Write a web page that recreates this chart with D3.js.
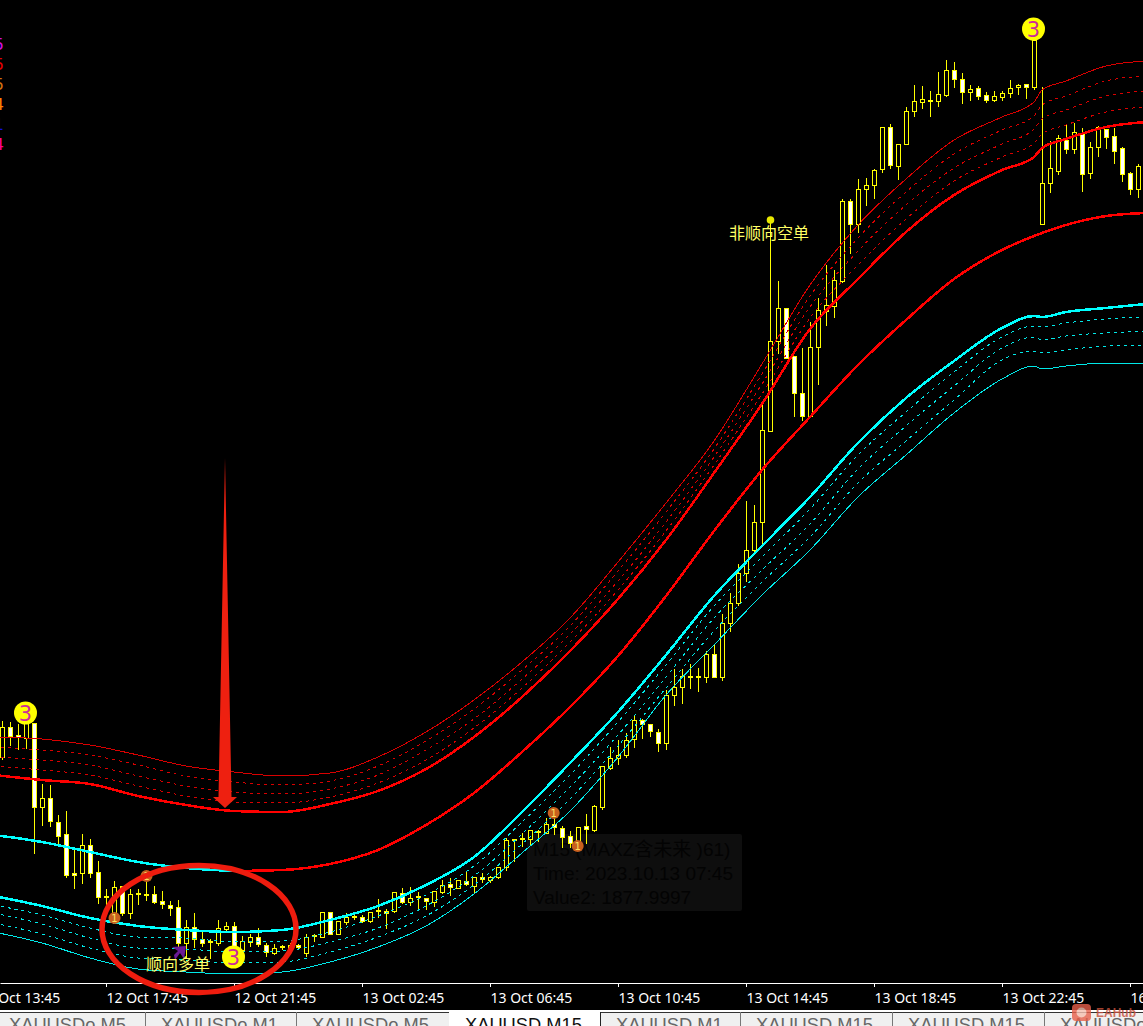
<!DOCTYPE html>
<html><head><meta charset="utf-8">
<style>html,body{margin:0;padding:0;background:#000;overflow:hidden}svg{display:block}</style>
<script src="https://cdn.jsdelivr.net/npm/d3@7"></script>
</head><body><svg id="c" width="1143" height="1026"></svg>
<script>
const open=[1884.3,1887.3,1886.5,1886.2,1887.7,1879.3,1880.2,1877.8,1876.6,1872.7,
1872.7,1875.5,1872.8,1870.4,1868.7,1871.4,1868.7,1870.7,1870.6,1870.6,
1869.9,1869.5,1869.3,1865.7,1867.3,1866.1,1865.9,1865.7,1867.1,1867.4,
1865.0,1865.8,1866.3,1865.5,1864.7,1865.4,1865.2,1865.5,1864.7,1866.5,
1866.3,1868.8,1866.6,1867.8,1868.4,1868.3,1867.9,1869.0,1868.9,1868.9,
1870.7,1869.8,1870.4,1870.2,1869.8,1870.8,1871.6,1871.2,1871.9,1871.4,
1872.3,1872.0,1872.3,1873.3,1876.1,1876.2,1876.1,1876.9,1876.7,1877.6,
1877.2,1876.4,1875.7,1877.4,1877.0,1879.3,1883.2,1884.2,1884.5,1886.1,
1888.0,1887.6,1886.8,1885.7,1890.5,1891.3,1892.4,1892.4,1892.3,1894.6,
1892.3,1897.7,1899.7,1902.7,1905.0,1907.8,1916.9,1925.9,1929.2,1924.4,
1920.7,1918.4,1925.3,1928.9,1929.4,1931.9,1939.9,1937.6,1941.1,1941.5,
1943.1,1947.3,1943.4,1945.6,1948.9,1949.8,1950.0,1949.9,1950.5,1953.0,
1952.1,1950.8,1951.2,1950.5,1950.0,1950.3,1950.7,1951.3,1951.6,1951.3,
1937.6,1941.7,1942.9,1946.0,1945.1,1946.6,1942.7,1945.3,1947.1,1946.4,
1945.2,1942.7,1941.1];
const close=[1887.3,1886.4,1886.3,1887.7,1879.3,1880.2,1877.9,1876.4,1872.5,1872.5,
1875.5,1872.7,1870.3,1870.3,1871.3,1868.7,1870.6,1870.6,1870.5,1869.8,
1869.6,1869.2,1865.7,1867.3,1866.1,1865.7,1865.8,1867.2,1867.4,1865.3,
1865.9,1866.3,1865.6,1864.8,1865.2,1865.3,1865.5,1865.3,1866.3,1866.4,
1868.8,1866.6,1867.9,1868.3,1868.3,1867.9,1868.8,1868.9,1868.7,1870.8,
1869.8,1870.2,1870.3,1869.9,1870.9,1871.5,1871.3,1872.0,1871.6,1872.3,
1872.1,1872.3,1873.3,1876.0,1876.0,1876.1,1877.0,1876.8,1877.6,1877.3,
1876.3,1875.7,1877.3,1877.1,1879.4,1883.4,1884.2,1884.5,1886.0,1888.0,
1887.6,1886.9,1885.7,1890.5,1891.3,1892.4,1892.3,1892.3,1894.6,1892.3,
1897.7,1899.7,1902.7,1905.0,1907.8,1917.0,1925.9,1929.2,1924.2,1920.7,
1918.4,1925.3,1929.0,1929.5,1932.0,1939.9,1937.6,1941.1,1941.5,1943.0,
1947.3,1943.5,1945.6,1948.9,1949.9,1950.1,1949.9,1950.6,1953.0,1952.1,
1950.8,1951.1,1950.4,1950.0,1950.4,1950.7,1951.2,1951.5,1951.3,1956.0,
1941.7,1943.2,1946.2,1945.1,1946.8,1942.6,1945.3,1947.3,1946.3,1944.9,
1942.6,1941.1,1943.4];
const high=[1888.0,1887.9,1887.7,1888.2,1887.8,1881.7,1881.6,1878.6,1879.0,1875.4,
1876.7,1876.2,1874.0,1871.2,1872.0,1871.5,1871.2,1871.2,1872.7,1871.5,
1871.0,1870.0,1870.1,1868.1,1868.8,1867.0,1866.2,1868.1,1867.9,1867.9,
1866.5,1866.7,1867.3,1865.8,1865.7,1865.6,1865.8,1865.7,1866.7,1866.7,
1868.8,1868.8,1867.9,1868.8,1868.9,1868.6,1868.9,1870.2,1869.2,1870.9,
1871.3,1871.4,1870.9,1870.3,1871.0,1872.1,1872.3,1872.1,1872.9,1872.4,
1872.8,1872.5,1873.4,1876.3,1876.2,1876.8,1877.1,1877.1,1878.3,1878.6,
1877.5,1877.0,1877.3,1878.7,1879.6,1883.4,1885.4,1886.1,1886.8,1888.6,
1888.2,1887.7,1887.2,1891.1,1893.2,1893.2,1893.7,1893.3,1895.0,1895.7,
1898.7,1900.8,1903.7,1910.0,1909.6,1919.8,1938.0,1932.0,1929.3,1924.4,
1925.3,1927.9,1930.3,1933.6,1933.1,1940.2,1940.2,1942.2,1942.3,1943.2,
1947.4,1947.7,1945.7,1949.4,1951.6,1951.5,1951.0,1952.9,1954.1,1953.9,
1952.8,1951.6,1951.5,1950.9,1951.0,1951.0,1952.1,1951.7,1951.6,1956.0,
1951.4,1946.0,1946.6,1947.6,1947.8,1947.3,1945.9,1947.5,1947.2,1947.3,
1945.4,1942.9,1943.7];
const low=[1884.1,1885.5,1885.1,1885.2,1874.7,1877.5,1877.4,1875.4,1872.3,1871.2,
1871.7,1872.3,1869.7,1868.7,1868.3,1868.5,1868.2,1869.6,1870.0,1869.7,
1869.2,1868.5,1865.2,1864.2,1865.3,1865.4,1864.2,1865.5,1866.9,1864.7,
1864.8,1865.4,1865.4,1864.4,1864.6,1865.1,1865.0,1865.2,1864.4,1865.9,
1866.3,1866.6,1866.6,1867.6,1868.1,1867.8,1867.8,1868.3,1867.2,1868.8,
1869.7,1869.5,1869.2,1869.1,1869.4,1870.7,1870.5,1871.2,1871.5,1870.8,
1871.8,1871.8,1872.2,1873.0,1873.9,1875.4,1875.6,1875.9,1876.7,1876.6,
1875.3,1875.3,1875.2,1875.7,1876.9,1879.1,1883.1,1883.6,1884.3,1885.3,
1886.2,1886.4,1884.9,1885.1,1889.5,1889.7,1891.2,1890.9,1891.8,1892.3,
1892.0,1896.9,1899.5,1901.9,1904.9,1905.7,1916.9,1924.7,1924.2,1918.4,
1918.0,1918.4,1921.6,1927.5,1928.3,1931.8,1934.7,1936.8,1939.5,1940.2,
1942.8,1943.2,1942.1,1945.6,1948.4,1949.2,1948.4,1949.4,1950.4,1951.3,
1949.7,1950.0,1950.1,1949.8,1949.9,1950.0,1950.3,1950.6,1950.2,1951.1,
1937.6,1940.8,1942.6,1944.7,1944.7,1940.9,1942.2,1944.4,1945.2,1943.7,
1941.9,1940.6,1940.3];

const bandIdx=[-1,5,11,17,23,29,35,41,47,53,59,65,71,77,83,89,95,101,107,113,119,125,129,130,133,138,143];
const redTop=[1886.3,1886.1,1885.5,1884.5,1883.4,1882.8,1882.4,1882.7,1884.3,1886.8,1890.0,1893.8,1898.2,1903.8,1909.7,1915.9,1923.6,1931.5,1937.5,1942.1,1946.0,1948.3,1949.8,1951.0,1951.9,1953.4,1953.9];
const redDash1=[1885.3,1885.0,1884.5,1883.5,1882.4,1881.8,1881.5,1881.9,1883.4,1885.9,1889.1,1893.0,1897.4,1902.9,1908.8,1915.1,1922.6,1930.4,1936.2,1940.8,1944.6,1947.0,1948.4,1949.5,1950.4,1951.9,1952.4];
const redDash2=[1884.3,1884.0,1883.5,1882.4,1881.4,1880.8,1880.6,1881.1,1882.5,1885.0,1888.1,1892.1,1896.6,1901.9,1907.8,1914.3,1921.6,1929.3,1934.9,1939.5,1943.2,1945.6,1947.1,1948.1,1949.0,1950.4,1950.9];
const redDash3=[1883.4,1883.0,1882.5,1881.4,1880.4,1879.8,1879.7,1880.3,1881.7,1884.0,1887.2,1891.2,1895.8,1901.0,1906.9,1913.5,1920.6,1928.2,1933.5,1938.1,1941.9,1944.3,1945.7,1946.6,1947.5,1948.8,1949.3];
const redBottom=[1882.5,1882.0,1881.6,1880.4,1879.5,1878.9,1878.8,1879.6,1880.9,1883.1,1886.3,1890.3,1894.9,1900.1,1906.0,1912.7,1919.6,1927.1,1932.1,1936.8,1940.5,1943.0,1944.3,1945.2,1946.1,1947.3,1947.8];
const midLine=[1876.5,1875.8,1874.8,1873.8,1873.2,1872.9,1873.0,1873.6,1875.0,1877.5,1880.7,1884.8,1889.3,1894.4,1900.4,1906.9,1913.0,1918.3,1923.5,1928.0,1932.1,1935.0,1936.4,1936.7,1937.5,1938.4,1938.7];
const cyanTop=[1870.4,1869.4,1868.2,1867.4,1867.0,1866.8,1867.0,1868.0,1869.4,1871.5,1874.3,1878.8,1883.7,1888.8,1894.5,1900.4,1905.4,1910.3,1915.7,1920.2,1923.9,1927.2,1928.4,1928.3,1928.8,1929.2,1929.6];
const cyanDash1=[1869.5,1868.5,1867.2,1866.3,1866.2,1865.8,1865.9,1866.8,1868.4,1870.5,1873.4,1877.8,1882.5,1887.8,1893.5,1899.4,1904.3,1909.1,1914.5,1918.8,1922.8,1926.3,1927.4,1927.3,1927.7,1928.1,1928.3];
const cyanDash2=[1868.7,1867.6,1866.2,1865.2,1865.1,1864.8,1864.9,1865.8,1867.2,1869.4,1872.4,1876.6,1881.3,1886.5,1892.3,1898.2,1903.0,1907.6,1913.1,1917.4,1921.4,1925.2,1926.3,1926.0,1926.4,1926.7,1926.9];
const cyanDash3=[1867.7,1866.6,1865.2,1864.2,1864.0,1863.7,1863.8,1864.8,1866.3,1868.4,1871.5,1875.6,1880.1,1885.4,1891.2,1896.9,1901.8,1906.3,1911.7,1915.9,1920.0,1924.0,1924.9,1924.7,1925.0,1925.4,1925.5];
const cyanBottom=[1866.8,1865.7,1864.2,1863.1,1862.8,1862.6,1862.8,1863.8,1865.3,1867.4,1870.6,1874.7,1878.9,1884.3,1890.5,1895.5,1900.5,1905.0,1910.3,1914.5,1918.7,1922.1,1923.4,1923.1,1923.4,1923.7,1923.7];

const tickIdx=[-3,13,29,45,61,77,93,109,125,141];
const tickLabels=["12 Oct 13:45","12 Oct 17:45","12 Oct 21:45","13 Oct 02:45","13 Oct 06:45","13 Oct 10:45","13 Oct 14:45","13 Oct 18:45","13 Oct 22:45","16 Oct 02:45"];
const tabLabels=["XAUUSDo M5","XAUUSDo M1","XAUUSDo M5","XAUUSD M15","XAUUSD M1","XAUUSD M15","XAUUSD M15","XAUUSDo M5"];
const tabEdges=[-6,145,296,449,600,740,892,1044,1200];
const tabActive=3;

const badgeBars=[3,29,129], badgePrices=[1888.7,1864.3,1957.1];
const dotBars=[68.9,71.9,18,14], dotPrices=[1878.7,1875.4,1872.4,1868.2];
const tipLines=["M15 (MAXZ含未来 )61)","Time: 2023.10.13 07:45","Value2: 1877.9997"];
const cornerGlyphs=["5","5","5","4","1","4"], cornerColors=["#d010e0","#e00000","#d07010","#ff8000","#1010e0","#ff0090"];

const svg=d3.select("#c");
const W=1143,H=1026,axisY=983;
const x=d3.scaleLinear().domain([-0.25,142.625]).range([0,W]);
const y=d3.scaleLinear().domain([1960,1861.5]).range([0,985]);
svg.append("rect").attr("width",W).attr("height",H).attr("fill","#000");
svg.append("defs").append("clipPath").attr("id","plot").append("rect").attr("width",W).attr("height",axisY);
const plot=svg.append("g").attr("clip-path","url(#plot)");

// tooltip (sits behind the price action)
const tip=plot.append("g");
tip.append("rect").attr("x",527).attr("y",834).attr("width",215).attr("height",77).attr("rx",2).attr("fill","#0e0e0e");
tip.selectAll("text").data(tipLines).join("text").attr("x",533).attr("y",(d,i)=>856+i*24)
 .attr("font-family","'Liberation Sans','Noto Sans CJK SC',sans-serif").attr("font-size",19).attr("fill","#030303").text(d=>d);

// candles
const bars=d3.range(open.length);
const px=i=>Math.round(x(i))+0.5, py=v=>Math.round(y(v))+0.5;
const cg=plot.append("g").attr("shape-rendering","crispEdges");
cg.selectAll("line").data(bars).join("line")
 .attr("x1",px).attr("x2",px).attr("y1",i=>py(high[i])).attr("y2",i=>py(low[i]))
 .attr("stroke","#ffff00").attr("stroke-width",1);
cg.selectAll("rect").data(bars).join("rect")
 .attr("x",i=>px(i)-2).attr("width",4)
 .attr("y",i=>py(Math.max(open[i],close[i])))
 .attr("height",i=>Math.abs(py(open[i])-py(close[i])))
 .attr("fill",i=>close[i]>open[i]?"#000":"#fff")
 .attr("stroke","#ffff00").attr("stroke-width",1);

// bands
const line=d3.line().x(d=>x(d[0])).y(d=>y(d[1])).curve(d3.curveMonotoneX);
const pts=a=>a.map((v,k)=>[bandIdx[k],v]);
function band(a,color,w,dash){
 plot.append("path").attr("d",line(a)).attr("fill","none").attr("stroke",color).attr("stroke-width",w)
  .attr("stroke-dasharray",dash||null).attr("shape-rendering","crispEdges");
}
band(pts(redTop),"#d80000",1);
band(pts(redDash1),"#d80000",1,"3 4");
band(pts(redDash2),"#d80000",1,"3 4");
band(pts(redDash3),"#d80000",1,"3 4");
band(pts(redBottom),"#ff0000",2.5);
band(pts(midLine).slice(0,6),"#00ffff",2.5);
band(pts(midLine).slice(5),"#ff0000",2.5);
band(pts(cyanTop),"#00ffff",2.5);
band(pts(cyanDash1),"#00e8e8",1,"3 4");
band(pts(cyanDash2),"#00e8e8",1,"3 4");
band(pts(cyanDash3),"#00e8e8",1,"3 4");
band(pts(cyanBottom),"#00e8e8",1);

// orange dots
const dots=plot.selectAll("g.dot").data(dotBars).join("g").attr("class","dot")
 .attr("transform",(d,i)=>`translate(${x(d)+0.5},${y(dotPrices[i])})`);
dots.append("circle").attr("r",6).attr("fill","#c8601e");
dots.append("text").attr("text-anchor","middle").attr("y",4).attr("font-size",10)
 .attr("font-family","'DejaVu Sans',sans-serif").attr("fill","#ffe060").text("1");

// yellow badges
const badges=plot.selectAll("g.badge").data(badgeBars).join("g").attr("class","badge")
 .attr("transform",(d,i)=>`translate(${x(d)-0.5},${y(badgePrices[i])})`);
badges.append("circle").attr("r",11.5).attr("fill","#ffff00");
badges.append("text").attr("text-anchor","middle").attr("y",7.5).attr("font-size",21)
 .attr("font-family","'DejaVu Sans',sans-serif").attr("fill","#cc2a9c").text("3");

// skull + captions
plot.append("circle").attr("cx",x(96)+0.5).attr("cy",y(1938)).attr("r",3.8).attr("fill","#e8e800");
plot.append("text").attr("x",729).attr("y",239).attr("font-size",16).attr("fill","#ffff66")
 .attr("font-family","'Noto Sans CJK SC',sans-serif").text("非顺向空单");
plot.append("path").attr("transform",`translate(${x(22)},${y(1864.8)})`)
 .attr("d","M-6,-5 L8,-6 L6,7 L2,1 L-3,8 L-4,3 L0,-1 Z").attr("fill","#6a1a96");
plot.append("text").attr("x",146).attr("y",970).attr("font-size",16).attr("fill","#ffff66")
 .attr("font-family","'Noto Sans CJK SC',sans-serif").text("顺向多单");

// clipped labels, top left
svg.selectAll("text.corner").data(cornerGlyphs).join("text").attr("class","corner")
 .attr("x",4).attr("y",(d,i)=>50+i*20).attr("text-anchor","end").attr("font-size",16)
 .attr("font-family","'DejaVu Sans',sans-serif").attr("fill",(d,i)=>cornerColors[i]).text(d=>d);

// axis
const axis=d3.axisBottom(x).tickValues(tickIdx).tickFormat((d,i)=>tickLabels[i]).tickSize(4).tickSizeOuter(0);
const ax=svg.append("g").attr("transform",`translate(0,${axisY})`).call(axis);
ax.select(".domain").attr("stroke","#fff").attr("stroke-width",1);
ax.selectAll(".tick line").attr("stroke","#fff").attr("shape-rendering","crispEdges");
ax.selectAll(".tick text").attr("fill","#fff").attr("text-anchor","start").attr("x",0).attr("y",7).attr("dy","0.9em")
 .attr("font-family","'Noto Sans',sans-serif").attr("font-size",14);
ax.attr("font-family",null).attr("font-size",null);

// tab strip
svg.append("rect").attr("y",1010).attr("width",W).attr("height",2).attr("fill","#fff");
svg.append("rect").attr("y",1012).attr("width",W).attr("height",14).attr("fill","#f0f0f0");
svg.append("rect").attr("y",1012).attr("width",W).attr("height",1).attr("fill","#333");
const tabs=svg.selectAll("g.tab").data(tabLabels).join("g").attr("class","tab");
tabs.filter((d,i)=>i===tabActive).append("rect").attr("x",(d)=>tabEdges[tabActive]).attr("y",1011)
 .attr("width",tabEdges[tabActive+1]-tabEdges[tabActive]).attr("height",15).attr("fill","#fff");
tabs.append("rect").attr("x",(d,i)=>tabEdges[i+1]).attr("y",1012).attr("width",1).attr("height",14)
 .attr("fill",(d,i)=>(i===tabActive-1||i===tabActive)?"#222":"#777");
tabs.append("text").attr("x",(d,i)=>tabEdges[i]+(i===0?15:16)).attr("y",1031)
 .attr("font-family","'Liberation Sans',sans-serif").attr("font-size",18.3)
 .attr("fill",(d,i)=>i===tabActive?"#111":"#666").text(d=>d);

// watermark
const wm=svg.append("g").attr("opacity",0.8);
wm.append("rect").attr("x",1072).attr("y",1004).attr("width",19).attr("height",17).attr("rx",4).attr("fill","#e8604a");
wm.append("circle").attr("cx",1081.5).attr("cy",1012.5).attr("r",5).attr("fill","#f6c0b0");
wm.append("text").attr("x",1096).attr("y",1017).attr("font-size",12).attr("font-weight","bold")
 .attr("font-family","'Liberation Sans',sans-serif").attr("fill","#c8503a").text("EAHub");

// hand-drawn ellipse and arrow
svg.append("ellipse").attr("cx",199).attr("cy",929).attr("rx",97).attr("ry",63.5)
 .attr("fill","none").attr("stroke","#ee1c0e").attr("stroke-width",5.5);
svg.append("path").attr("d","M225,458 L231.5,797 L237,797 L225,808 L213,797 L218.5,797 Z").attr("fill","#ee2010");
</script></body></html>
